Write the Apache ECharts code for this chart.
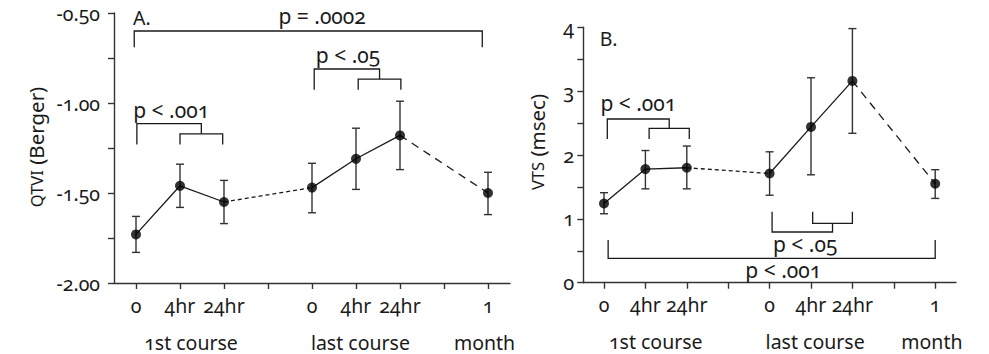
<!DOCTYPE html>
<html>
<head>
<meta charset="utf-8">
<script src="https://cdn.jsdelivr.net/npm/echarts@6/dist/echarts.min.js"></script>
<style>
  html, body { margin: 0; padding: 0; background: #fff; }
  #chart { width: 989px; height: 354px; }
  #chart text { font-variant-numeric: oldstyle-nums !important; font-feature-settings: "onum" 1 !important; }
</style>
</head>
<body>
<div id="chart"></div>
<script>
// Time points along the x axis (gaps at 3 and 7 separate the courses)
const timeX = [0, 1, 2, 4, 5, 6, 8];
const timeLabels = ['0', '4hr', '24hr', '0', '4hr', '24hr', '1'];
const tickPositions = [0, 1, 2, 3, 4, 5, 6, 7, 8];
const courseLabels = ['1st course', 'last course', 'month'];
const courseX = [1.25, 5.1, 7.92];

// Panel A: QTVI (Berger), mean with upper / lower error bounds
const qtviMean = [-1.73, -1.46, -1.55, -1.47, -1.31, -1.18, -1.50];
const qtviHigh = [-1.63, -1.34, -1.43, -1.335, -1.14, -0.99, -1.385];
const qtviLow  = [-1.83, -1.58, -1.67, -1.61, -1.48, -1.37, -1.62];

// Panel B: VTS (msec)
const vtsMean = [1.24, 1.78, 1.80, 1.71, 2.44, 3.16, 1.55];
const vtsHigh = [1.41, 2.07, 2.14, 2.05, 3.21, 3.98, 1.77];
const vtsLow  = [1.08, 1.47, 1.47, 1.37, 1.69, 2.34, 1.32];

// Significance brackets (data coordinates)
const bracketsA = [
  { kind: 'span', from: -0.04, to: 7.87, bar: -0.60, end: -0.69, text: 'p = .0002', tx: 4.23, ty: -0.517 },
  { kind: 'nest', from: 0.02, pair: [1.0, 1.97], bar: -1.115, join: -1.171, end: -1.23, text: 'p < .001', tx: 0.8, ty: -1.04 },
  { kind: 'nest', from: 4.05, pair: [5.05, 6.02], bar: -0.811, join: -0.867, end: -0.927, text: 'p < .05', tx: 4.82, ty: -0.733 }
];
const bracketsB = [
  { kind: 'nest', from: 0.08, pair: [1.09, 2.06], bar: 2.564, join: 2.418, end: 2.25, text: 'p < .001', tx: 0.83, ty: 2.81 },
  { kind: 'nest', from: 4.06, pair: [5.04, 6.0], bar: 0.794, join: 0.93, end: 1.11, text: 'p < .05', tx: 4.86, ty: 0.606 },
  { kind: 'span', from: 0.1, to: 8.0, bar: 0.382, end: 0.669, text: 'p < .001', tx: 4.33, ty: 0.2 }
];

const FONT = '"Noto Sans", "Open Sans", sans-serif';
const INK = '#1a1a1a';
const AXIS = '#333';
const FS_P = 21;       // p-value annotations
const FS = 19.5;       // course labels and panel tags
const FS_TICK = 19.5;  // x tick labels

function pairs(xs, ys, idx) { return idx.map(i => [xs[i], ys[i]]); }

function xAxisFor(gridIndex) {
  return {
    type: 'value', gridIndex, min: -0.5, max: 8.5,
    splitLine: { show: false },
    axisLine: { onZero: false, lineStyle: { color: AXIS, width: 1.4 } },
    axisTick: { show: true, length: 6, lineStyle: { color: AXIS, width: 1.4 }, customValues: tickPositions },
    axisLabel: {
      customValues: timeX, margin: 12, color: INK, fontFamily: FONT, fontSize: FS_TICK,
      formatter: v => timeLabels[timeX.indexOf(v)]
    }
  };
}

// Ticks every half step; labels only on the major values
function yAxisFor(gridIndex, min, max, step, major, fmt, margin, fontSize) {
  return {
    type: 'value', gridIndex, min, max, interval: step,
    splitLine: { show: false },
    axisLine: { show: true, onZero: false, lineStyle: { color: AXIS, width: 1.4 } },
    axisTick: { show: true, length: 6, lineStyle: { color: AXIS, width: 1.4 } },
    axisLabel: {
      margin, color: INK, fontFamily: FONT, fontSize, showMinLabel: true, showMaxLabel: true,
      formatter: v => {
        const k = v / major;
        return Math.abs(k - Math.round(k)) < 1e-6 ? fmt(v) : '';
      }
    }
  };
}

function lineSeries(idx, mean, xi, yi, dashed) {
  return {
    type: 'line', xAxisIndex: xi, yAxisIndex: yi,
    data: pairs(timeX, mean, idx),
    symbol: 'none', silent: true, z: 2,
    lineStyle: { color: INK, width: 1.3, type: dashed || 'solid' }
  };
}

function errorSeries(mean, hi, lo, xi, yi) {
  return {
    type: 'custom', xAxisIndex: xi, yAxisIndex: yi, z: 3, silent: true,
    data: timeX.map((x, i) => [x, hi[i], lo[i]]),
    renderItem(params, api) {
      const top = api.coord([api.value(0), api.value(1)]);
      const bot = api.coord([api.value(0), api.value(2)]);
      const w = 4;
      const st = { stroke: AXIS, lineWidth: 1.4 };
      return {
        type: 'group', children: [
          { type: 'line', shape: { x1: top[0], y1: top[1], x2: bot[0], y2: bot[1] }, style: st },
          { type: 'line', shape: { x1: top[0] - w, y1: top[1], x2: top[0] + w, y2: top[1] }, style: st },
          { type: 'line', shape: { x1: bot[0] - w, y1: bot[1], x2: bot[0] + w, y2: bot[1] }, style: st }
        ]
      };
    }
  };
}

function pointSeries(mean, xi, yi) {
  return {
    type: 'scatter', xAxisIndex: xi, yAxisIndex: yi, z: 4, silent: true,
    data: pairs(timeX, mean, timeX.map((_, i) => i)),
    symbol: 'circle', symbolSize: 10, itemStyle: { color: '#000' }
  };
}

function bracketSeries(list, xi, yi) {
  return {
    type: 'custom', xAxisIndex: xi, yAxisIndex: yi, z: 5, silent: true, clip: false,
    data: list.map((_, i) => [i]),
    renderItem(params, api) {
      const b = list[api.value(0)];
      const c = (x, y) => api.coord([x, y]);
      const st = { stroke: INK, lineWidth: 1.3, fill: null };
      const kids = [];
      if (b.kind === 'span') {
        kids.push({ type: 'polyline', shape: { points: [c(b.from, b.end), c(b.from, b.bar), c(b.to, b.bar), c(b.to, b.end)] }, style: st });
      } else {
        const mid = (b.pair[0] + b.pair[1]) / 2;
        kids.push({ type: 'polyline', shape: { points: [c(b.from, b.end), c(b.from, b.bar), c(mid, b.bar), c(mid, b.join)] }, style: st });
        kids.push({ type: 'polyline', shape: { points: [c(b.pair[0], b.end), c(b.pair[0], b.join), c(b.pair[1], b.join), c(b.pair[1], b.end)] }, style: st });
      }
      const t = c(b.tx, b.ty);
      kids.push({ type: 'text', x: t[0], y: t[1], style: { text: b.text, fill: INK, font: FS_P + 'px ' + FONT, align: 'center', verticalAlign: 'middle' } });
      return { type: 'group', children: kids };
    }
  };
}

function textSeries(items, xi, yi) {
  return {
    type: 'custom', xAxisIndex: xi, yAxisIndex: yi, z: 5, silent: true, clip: false,
    data: items.map((_, i) => [i]),
    renderItem(params, api) {
      const it = items[api.value(0)];
      const p = api.coord([it.x, it.y]);
      return { type: 'text', x: p[0], y: p[1] + (it.dy || 0), style: { text: it.text, fill: INK, font: FS + 'px ' + FONT, align: it.align || 'center', verticalAlign: 'middle' } };
    }
  };
}

const labelsA = [{ text: 'A.', x: -0.07, y: -0.525, align: 'left' }]
  .concat(courseLabels.map((t, i) => ({ text: t, x: courseX[i], y: -2.0, dy: 59 })));
const labelsB = [{ text: 'B.', x: -0.1, y: 3.82, align: 'left' }]
  .concat(courseLabels.map((t, i) => ({ text: t, x: courseX[i], y: 0, dy: 59 })));

const solidA = [0, 1, 2], solidB = [3, 4, 5];

function axisTitle(x, y, caps, rest) {
  return {
    type: 'text', x, y, rotation: Math.PI / 2,
    style: {
      text: '{sc|' + caps + '} ' + rest, fill: INK, font: '20.5px ' + FONT,
      align: 'center', verticalAlign: 'middle',
      rich: { sc: { fontSize: 16.5, fontFamily: FONT, fill: INK } }
    }
  };
}

const option = {
  animation: false,
  backgroundColor: '#fff',
  textStyle: { fontFamily: FONT },
  grid: [
    { left: 114, width: 396, top: 13, height: 270 },
    { left: 583.3, width: 372.6, top: 27.3, height: 255.4 }
  ],
  xAxis: [xAxisFor(0), xAxisFor(1)],
  yAxis: [
    yAxisFor(0, -2, -0.5, 0.25, 0.5, v => v.toFixed(2), 14, 19.5),
    yAxisFor(1, 0, 4, 0.5, 1, v => String(v), 9, 20)
  ],
  graphic: [
    axisTitle(36, 147, 'QTVI', '(Berger)'),
    axisTitle(537, 142, 'VTS', '(msec)')
  ],
  series: [
    lineSeries(solidA, qtviMean, 0, 0),
    lineSeries([2, 3], qtviMean, 0, 0, [4, 3]),
    lineSeries(solidB, qtviMean, 0, 0),
    lineSeries([5, 6], qtviMean, 0, 0, [8, 6]),
    errorSeries(qtviMean, qtviHigh, qtviLow, 0, 0),
    pointSeries(qtviMean, 0, 0),
    bracketSeries(bracketsA, 0, 0),
    textSeries(labelsA, 0, 0),

    lineSeries(solidA, vtsMean, 1, 1),
    lineSeries([2, 3], vtsMean, 1, 1, [4, 3]),
    lineSeries(solidB, vtsMean, 1, 1),
    lineSeries([5, 6], vtsMean, 1, 1, [8, 6]),
    errorSeries(vtsMean, vtsHigh, vtsLow, 1, 1),
    pointSeries(vtsMean, 1, 1),
    bracketSeries(bracketsB, 1, 1),
    textSeries(labelsB, 1, 1)
  ]
};

const chart = echarts.init(document.getElementById('chart'), null, { renderer: 'svg' });
chart.setOption(option);
</script>
</body>
</html>
